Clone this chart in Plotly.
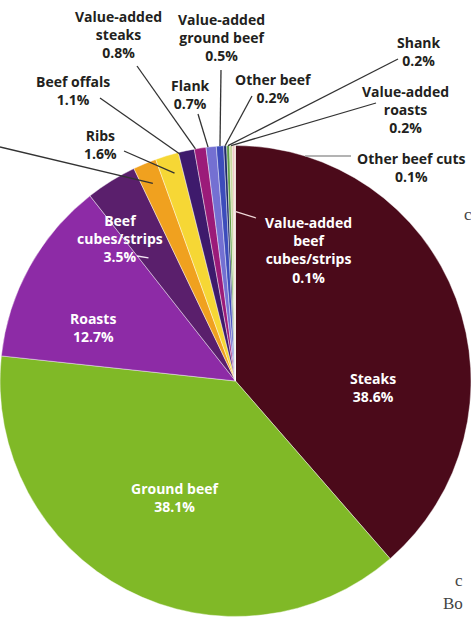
import math
import plotly.graph_objects as go

W, H = 471, 629

# ---------------- data ----------------
labels = ["Steaks", "Ground beef", "Roasts", "Beef cubes/strips", "(label cut off)",
          "Ribs", "Beef offals", "Value-added steaks", "Flank", "Value-added ground beef",
          "Other beef", "Shank", "Value-added roasts", "Other beef cuts",
          "Value-added beef cubes/strips"]
values = [38.6, 38.1, 12.7, 3.5, 1.6, 1.6, 1.1, 0.8, 0.7, 0.5, 0.2, 0.2, 0.2, 0.1, 0.1]
colors = ["#4b0a1a", "#80b927", "#8d2ba6", "#5a1f6c", "#f0a11f", "#f6d735", "#3e1a6c",
          "#9b1b79", "#7470d2", "#3d4cbb", "#1f2a6b", "#5f9c45", "#c9d6a0", "#e6a9a7",
          "#f3d7c9"]
display_names = {
    "Steaks": "Steaks",
    "Ground beef": "Ground beef",
    "Roasts": "Roasts",
    "Beef cubes/strips": "Beef<br>cubes/strips",
    "Ribs": "Ribs",
    "Beef offals": "Beef offals",
    "Value-added steaks": "Value-added<br>steaks",
    "Flank": "Flank",
    "Value-added ground beef": "Value-added<br>ground beef",
    "Other beef": "Other beef",
    "Shank": "Shank",
    "Value-added roasts": "Value-added<br>roasts",
    "Other beef cuts": "Other beef cuts",
    "Value-added beef cubes/strips": "Value-added<br>beef<br>cubes/strips",
}

# ---------------- layout / style ----------------
CX, CY = W / 2, 381.0          # pie centre (px from top-left)
R = W / 2                      # pie radius (domain width limited)
DARK = "#231f20"
WHITE = "#ffffff"
FONT = "Open Sans, Arial, sans-serif"
FSIZE = 14

# label text placement (px centre) and colour
label_pos = {
    "Steaks": (373, 387, WHITE),
    "Ground beef": (175, 497, WHITE),
    "Roasts": (93, 327, WHITE),
    "Beef cubes/strips": (120, 238, WHITE),
    "Ribs": (100, 145, DARK),
    "Beef offals": (73, 91, DARK),
    "Value-added steaks": (118, 34, DARK),
    "Flank": (190, 95, DARK),
    "Value-added ground beef": (221, 37, DARK),
    "Other beef": (273, 89, DARK),
    "Shank": (419, 52, DARK),
    "Value-added roasts": (405, 109, DARK),
    "Other beef cuts": (411, 167, DARK),
    "Value-added beef cubes/strips": (308, 250, WHITE),
}
# leader lines: label-side start (px), position within slice (0..1), radial fraction, colour
leaders = {
    "(label cut off)": ((0, 147), 0.5, 0.91, "#333333"),
    "Ribs": ((124, 151), 0.6, 0.92, "#333333"),
    "Beef offals": ((100, 98), 0.1, 0.99, "#333333"),
    "Value-added steaks": ((137, 66), 0.1, 1.0, "#333333"),
    "Flank": ((198, 114), 0.2, 1.0, "#333333"),
    "Value-added ground beef": ((221, 70), 0.5, 1.0, "#333333"),
    "Other beef": ((252, 96), 0.5, 1.0, "#333333"),
    "Shank": ((398, 59), 0.5, 1.0, "#333333"),
    "Value-added roasts": ((376, 103), 0.5, 1.0, "#333333"),
    "Value-added beef cubes/strips": ((256, 218), 0.5, 0.72, "#f0d8d8"),
    "Beef cubes/strips": ((137, 256), 0.23, 0.64, "#f4e6f4"),
}


def px_to_paper(x, y):
    return x / W, 1 - y / H


total = sum(values)
starts = []
acc = 0.0
for v in values:
    starts.append(acc)
    acc += v


def slice_point(i, t, rf):
    frac = (starts[i] + t * values[i]) / total
    ang = 2 * math.pi * frac          # clockwise from 12 o'clock
    return CX + R * rf * math.sin(ang), CY - R * rf * math.cos(ang)


fig = go.Figure()
half = 240 / H
yc = 1 - CY / H
fig.add_trace(go.Pie(
    labels=labels, values=values, sort=False, direction="clockwise", rotation=0,
    marker=dict(colors=colors, line=dict(color="rgba(255,255,255,0.7)", width=0.6)),
    textinfo="none", hoverinfo="label+percent", showlegend=False,
    domain=dict(x=[0, 1], y=[yc - half, yc + half]),
))

shapes = []
for name, (start, t, rf, col) in leaders.items():
    i = labels.index(name)
    ex, ey = slice_point(i, t, rf)
    x0, y0 = px_to_paper(*start)
    x1, y1 = px_to_paper(ex, ey)
    shapes.append(dict(type="line", xref="paper", yref="paper", x0=x0, y0=y0, x1=x1, y1=y1,
                       line=dict(color=col, width=1.3)))
# horizontal stub from "Other beef cuts" to the pie edge
ox, oy, _ = label_pos["Other beef cuts"]
stub_y = oy - 11
edge_x = CX + math.sqrt(max(R ** 2 - (stub_y - CY) ** 2, 0))
sx0, sy0 = px_to_paper(ox - 60, stub_y)
sx1, sy1 = px_to_paper(edge_x, stub_y)
shapes.append(dict(type="line", xref="paper", yref="paper", x0=sx0, y0=sy0, x1=sx1, y1=sy1,
                   line=dict(color="#9a9a9a", width=1.5)))

annotations = []
for name, v in zip(labels, values):
    if name not in label_pos:
        continue
    x, y, col = label_pos[name]
    xp, yp = px_to_paper(x, y)
    annotations.append(dict(
        x=xp, y=yp, xref="paper", yref="paper", xanchor="center", yanchor="middle",
        text=f"{display_names[name]}<br>{v:.1f}%", showarrow=False, align="center",
        font=dict(family=FONT, size=FSIZE, color=col, weight=700),
    ))

# fragments of surrounding page text visible at the right edge
for txt, x, y in [("c", 462, 214), ("c", 453, 580), ("Bo", 441, 603)]:
    xp, yp = px_to_paper(x, y)
    annotations.append(dict(x=xp, y=yp, xref="paper", yref="paper", xanchor="left",
                            yanchor="middle", text=txt, showarrow=False,
                            font=dict(family="Liberation Serif, serif", size=17, color="#444444")))

fig.update_layout(
    width=W, height=H, margin=dict(l=0, r=0, t=0, b=0),
    paper_bgcolor="white", plot_bgcolor="white",
    shapes=shapes, annotations=annotations,
)

fig.write_html("out.html")
